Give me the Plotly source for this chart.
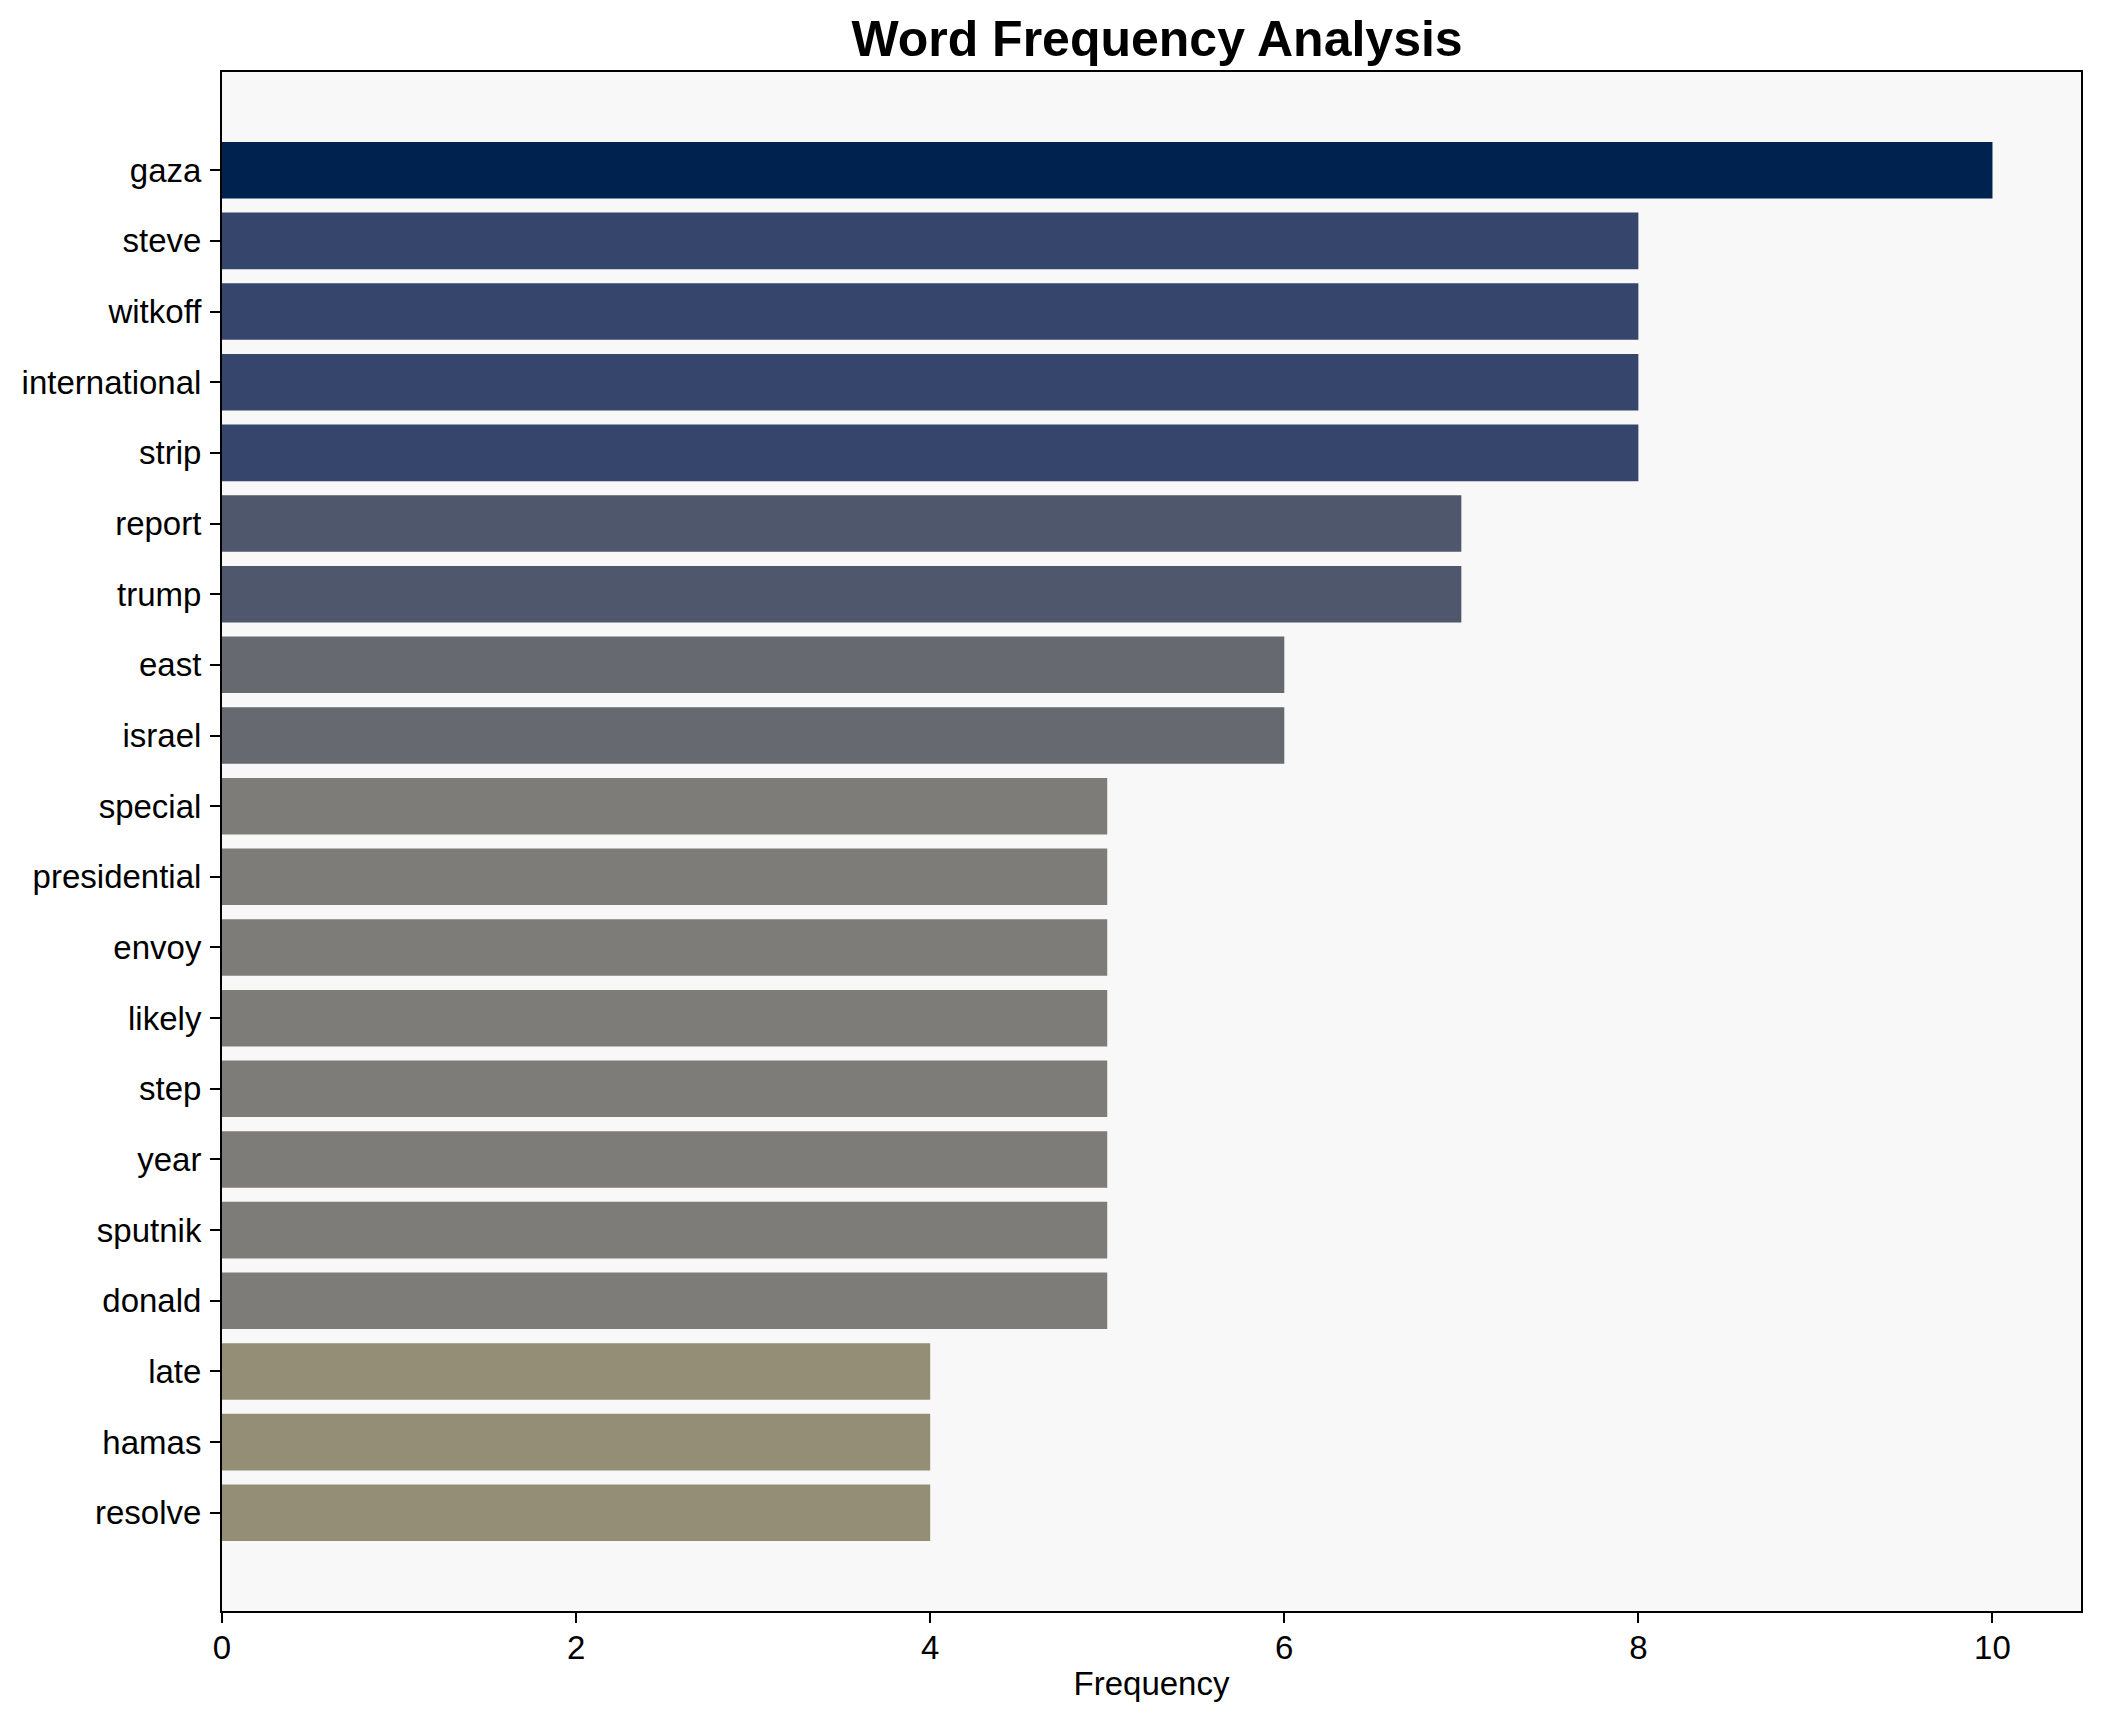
import plotly.graph_objects as go

words = ["gaza", "steve", "witkoff", "international", "strip", "report", "trump",
         "east", "israel", "special", "presidential", "envoy", "likely", "step",
         "year", "sputnik", "donald", "late", "hamas", "resolve"]
counts = [10, 8, 8, 8, 8, 7, 7, 6, 6, 5, 5, 5, 5, 5, 5, 5, 5, 4, 4, 4]

# matplotlib cividis samples at positions 0.0 ... 0.6 (color = cividis(1 - v/max))
cividis_lut = {10: "#00224E", 8: "#35456C", 7: "#4F576C", 6: "#666970",
               5: "#7D7C78", 4: "#948E77"}
colors = [cividis_lut[c] for c in counts]

fig = go.Figure(go.Bar(
    x=counts, y=words, orientation="h",
    marker=dict(color=colors, line=dict(width=0)),
))

font_family = "Liberation Sans, Arial, sans-serif"
n = len(words)
fig.update_layout(
    width=2101, height=1722,
    margin=dict(l=214, r=28, t=64, b=119),
    paper_bgcolor="white",
    plot_bgcolor="#F8F8F8",
    bargap=0.2,
    showlegend=False,
    font=dict(family=font_family, size=33, color="black"),
    title=dict(text="<b>Word Frequency Analysis</b>", x=0.5469, xanchor="center",
               y=1 - 30 / 1722, yanchor="middle", yref="container",
               font=dict(family=font_family, size=50, color="black")),
)
fig.update_xaxes(
    range=[0, 10.5], tickmode="array", tickvals=[0, 2, 4, 6, 8, 10],
    showgrid=False, zeroline=False,
    showline=True, mirror=True, linecolor="black", linewidth=2,
    ticks="outside", ticklen=10, tickwidth=1.5, tickcolor="black",
    tickfont=dict(size=33), ticklabelstandoff=-4,
    title=dict(text="Frequency", font=dict(size=33), standoff=7),
)
fig.update_yaxes(
    range=[n - 1 + 1.39, -1.39],
    showgrid=False, zeroline=False,
    showline=True, mirror=True, linecolor="black", linewidth=2,
    ticks="outside", ticklen=10, tickwidth=1.5, tickcolor="black",
    tickfont=dict(size=33), ticklabelstandoff=2,
)

fig.write_html("out.html")
